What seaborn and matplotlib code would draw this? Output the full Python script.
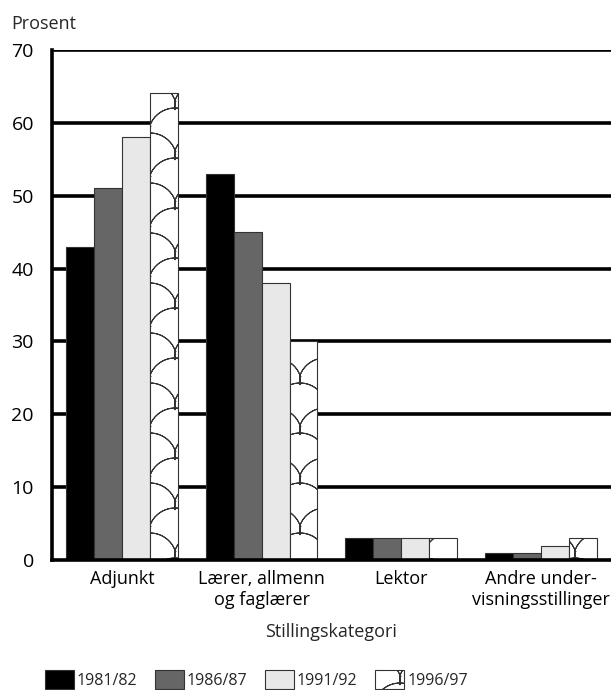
import numpy as np
import pandas as pd
import matplotlib
matplotlib.use("Agg")
import matplotlib.pyplot as plt
import matplotlib.patches as mpatches
import matplotlib.hatch as mhatch
from matplotlib.path import Path
import seaborn as sns

categories = ["Adjunkt", "Lærer, allmenn\nog faglærer", "Lektor", "Andre under-\nvisningsstillinger"]
years = ["1981/82", "1986/87", "1991/92", "1996/97"]
v_1981 = [43, 53, 3, 1]
v_1986 = [51, 45, 3, 1]
v_1991 = [58, 38, 3, 2]
v_1996 = [64, 30, 3, 3]

colors = ["#000000", "#666666", "#e8e8e8", "#ffffff"]


# fish-scale hatch, takes over the '*' hatch character
class ScaleHatch(mhatch.HatchPatternBase):
    def __init__(self, hatch, density):
        self.verts = []
        self.codes = []
        if "*" in hatch:
            self.build()
        self.num_vertices = len(self.verts)

    def add_line(self, pts):
        # go out and back along the same points so the fill has no area
        pts = list(pts)
        pts = pts + pts[-2::-1]
        self.verts += pts
        self.codes += [Path.MOVETO] + [Path.LINETO] * (len(pts) - 1)

    def build(self):
        a, d, h = 0.25, 0.17, 0.25   # half width, arc rise, row spacing (cell units)
        r = (a * a + d * d) / (2 * d)
        dx = np.linspace(-a, a, 21)
        rise = d - r + np.sqrt(r * r - dx * dx)
        for j in range(-1, 6):
            y0 = j * h
            off = 0.25 * (j % 2)
            for k in range(-2, 4):
                cx = off + k * 2 * a
                self.add_line(zip(cx + dx, y0 + rise))
                # stem under the cusp
                self.add_line([(cx + a, y0), (cx + a, y0 - h + d)])

    def set_vertices_and_codes(self, vertices, codes):
        vertices[:] = self.verts
        codes[:] = self.codes


mhatch._hatch_types[:] = [t for t in mhatch._hatch_types if t.__name__ != "Stars"] + [ScaleHatch]

rows = []
for year, vals in zip(years, [v_1981, v_1986, v_1991, v_1996]):
    for cat, v in zip(categories, vals):
        rows.append({"kategori": cat, "aar": year, "prosent": v})
df = pd.DataFrame(rows)

sns.set_theme(style="white")
plt.rcParams["font.family"] = ["Open Sans", "DejaVu Sans"]
plt.rcParams["hatch.linewidth"] = 0.75
plt.rcParams["hatch.color"] = "black"

fig = plt.figure(figsize=(6.11, 6.9), dpi=100)
ax = fig.add_axes([0.085, 0.188, 0.915, 0.74])

# gridlines drawn first so bars sit on top
for y in range(10, 80, 10):
    ax.axhline(y, color="black", lw=2.6, zorder=0)

sns.barplot(data=df, x="kategori", y="prosent", hue="aar", palette=colors,
            width=0.8, edgecolor="#333333", linewidth=0.8, ax=ax, legend=False,
            zorder=2)

# hatch the last series
n = len(categories)
for p in ax.patches[3 * n:4 * n]:
    p.set_hatch("*")

ax.set_xlim(-0.5, 3.5)
ax.set_ylim(0, 70)
ax.set_yticks(range(0, 80, 10))
ax.tick_params(axis="y", length=0, labelsize=14, pad=13, colors="black")
ax.tick_params(axis="x", which="major", length=0, labelsize=13, pad=7, colors="black")
ax.set_xticks([0.5, 1.5, 2.5], minor=True)
ax.tick_params(axis="x", which="minor", direction="in", length=10, width=2, color="black")
for s in ["top", "right"]:
    ax.spines[s].set_visible(False)
for s in ["left", "bottom"]:
    ax.spines[s].set_color("black")
    ax.spines[s].set_linewidth(2.6)
ax.set_xlabel("Stillingskategori", fontsize=13, labelpad=10)
ax.set_ylabel("")
fig.text(0.018, 0.958, "Prosent", fontsize=13)

handles = []
for c, y in zip(colors, years):
    h = mpatches.Patch(facecolor=c, edgecolor="#333333", linewidth=0.8, label=y,
                       hatch="*" if y == "1996/97" else None)
    handles.append(h)
fig.legend(handles=handles, loc="lower left", bbox_to_anchor=(44 / 611, 0.0), ncol=4,
           frameon=False, fontsize=11.5, handlelength=1.8, handleheight=1.5,
           handletextpad=0.2, columnspacing=1.1, borderpad=0.05, borderaxespad=0)

plt.savefig("out.png", dpi=100)
